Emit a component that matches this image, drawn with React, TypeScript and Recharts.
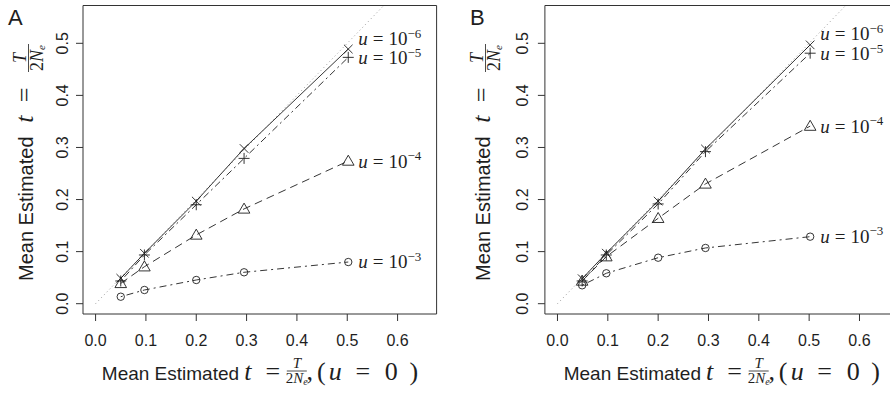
import React from 'react';
import { ComposedChart, Line, Scatter, XAxis, YAxis, ReferenceArea } from 'recharts';

// ---------- data ----------
const xValuesA = [0.05, 0.097, 0.2, 0.295, 0.502];
const xValuesB = [0.049, 0.097, 0.2, 0.294, 0.502];

const u6A = [0.0488, 0.0968, 0.197, 0.298, 0.489];
const u5A = [0.0436, 0.0935, 0.19, 0.279, 0.473];
const u4A = [0.039, 0.071, 0.132, 0.182, 0.274];
const u3A = [0.0134, 0.0263, 0.0455, 0.0603, 0.08];

const u6B = [0.048, 0.097, 0.197, 0.297, 0.497];
const u5B = [0.0436, 0.0935, 0.1915, 0.292, 0.481];
const u4B = [0.0436, 0.0903, 0.164, 0.23, 0.341];
const u3B = [0.0353, 0.0584, 0.0883, 0.107, 0.1287];

const labelExps = ['6', '5', '4', '3'];
const labelX = 0.502;
const labelYA = [0.5083, 0.4718, 0.2735, 0.0803];
const labelYB = [0.5179, 0.4795, 0.341, 0.129];

const diagX = [0, 0.7];

const xTicks = [0, 0.1, 0.2, 0.3, 0.4, 0.5, 0.6];
const yTicks = [0, 0.1, 0.2, 0.3, 0.4, 0.5];
const xDomain: [number, number] = [-0.025, 0.6775];
const yDomain: [number, number] = [-0.0198, 0.5726];

// ---------- style ----------
const INK = '#1e1e1e';
const BOX = '#333';
const SANS = '"Liberation Sans", Arial, Helvetica, sans-serif';
const SERIF = '"Liberation Serif", "Times New Roman", serif';

const pts = (xs: number[], ys: number[]) => xs.map((x, i) => ({ x, y: ys[i] }));

type Kind = 'x' | 'plus' | 'tri' | 'circ';

const Marker = ({ cx, cy, kind }: { cx?: number; cy?: number; kind: Kind }) => {
  if (cx == null || cy == null || isNaN(cx) || isNaN(cy)) return null;
  const sw = 0.9;
  if (kind === 'x') {
    const s = 4.3;
    return (
      <path
        d={`M${cx - s},${cy - s}L${cx + s},${cy + s}M${cx - s},${cy + s}L${cx + s},${cy - s}`}
        stroke={INK}
        strokeWidth={sw}
        fill="none"
      />
    );
  }
  if (kind === 'plus') {
    const s = 5.5;
    return (
      <path
        d={`M${cx - s},${cy}L${cx + s},${cy}M${cx},${cy - s}L${cx},${cy + s}`}
        stroke={INK}
        strokeWidth={sw}
        fill="none"
      />
    );
  }
  if (kind === 'tri') {
    return (
      <path
        d={`M${cx},${cy - 5.8}L${cx + 5.8},${cy + 4.2}L${cx - 5.8},${cy + 4.2}Z`}
        stroke={INK}
        strokeWidth={sw}
        fill="none"
      />
    );
  }
  return <circle cx={cx} cy={cy} r={3.7} stroke={INK} strokeWidth={sw} fill="none" />;
};

const dotFor = (kind: Kind) => (p: any) => <Marker key={`${kind}-${p.index}`} cx={p.cx} cy={p.cy} kind={kind} />;

const LabelShape = (p: any) => {
  const { cx, cy, payload } = p;
  if (cx == null || cy == null) return <g />;
  return (
    <text x={cx + 10} y={cy} dy="0.34em" fontFamily={SERIF} fontSize={19} fill={INK}>
      <tspan fontStyle="italic">u</tspan>
      <tspan dx={5}>=</tspan>
      <tspan dx={5}>10</tspan>
      <tspan dy={-7.5} fontSize={13}>{'\u2212' + payload.exp}</tspan>
    </text>
  );
};

const XTick = (p: any) => (
  <text x={p.x} y={p.y + 25} textAnchor="middle" fontFamily={SANS} fontSize={16} fill={INK}>
    {Number(p.payload.value).toFixed(1)}
  </text>
);

const makeYTick = (off: number) => (p: any) => (
  <text
    transform={`translate(${p.x - off},${p.y}) rotate(-90)`}
    textAnchor="middle"
    fontFamily={SANS}
    fontSize={16}
    fill={INK}
  >
    {Number(p.payload.value).toFixed(1)}
  </text>
);

interface PanelProps {
  width: number;
  plotLeft: number;
  rightMargin: number;
  tickOff: number;
  xs: number[];
  u6: number[];
  u5: number[];
  u4: number[];
  u3: number[];
  labelY: number[];
}

const Panel = ({ width, plotLeft, rightMargin, tickOff, xs, u6, u5, u4, u3, labelY }: PanelProps) => {
  const labels = labelExps.map((e, i) => ({ x: labelX, y: labelY[i], exp: e }));
  const diag = pts(diagX, diagX);
  const YT = makeYTick(tickOff);
  return (
    <ComposedChart
      width={width}
      height={393}
      margin={{ top: 5.5, right: rightMargin, bottom: 0, left: 0 }}
    >
      <XAxis
        type="number"
        dataKey="x"
        domain={xDomain}
        allowDataOverflow
        ticks={xTicks}
        interval={0}
        axisLine={false}
        tickLine={{ stroke: BOX, strokeWidth: 1 }}
        tickSize={7}
        tickMargin={0}
        height={79}
        tick={<XTick />}
      />
      <YAxis
        type="number"
        dataKey="y"
        domain={yDomain}
        allowDataOverflow
        ticks={yTicks}
        interval={0}
        axisLine={false}
        tickLine={{ stroke: BOX, strokeWidth: 1 }}
        tickSize={7}
        tickMargin={0}
        width={plotLeft}
        tick={<YT />}
      />
      <Line
        data={diag}
        dataKey="y"
        stroke="#9a9a9a"
        strokeWidth={1}
        strokeDasharray="1 3"
        dot={false}
        activeDot={false}
        isAnimationActive={false}
      />
      <Line
        data={pts(xs, u3)}
        dataKey="y"
        stroke={INK}
        strokeWidth={0.9}
        strokeDasharray="2 4 7 4"
        dot={dotFor('circ')}
        activeDot={false}
        isAnimationActive={false}
      />
      <Line
        data={pts(xs, u4)}
        dataKey="y"
        stroke={INK}
        strokeWidth={0.9}
        strokeDasharray="8 5"
        dot={dotFor('tri')}
        activeDot={false}
        isAnimationActive={false}
      />
      <Line
        data={pts(xs, u5)}
        dataKey="y"
        stroke={INK}
        strokeWidth={0.9}
        strokeDasharray="2 3.5 7 3.5"
        dot={dotFor('plus')}
        activeDot={false}
        isAnimationActive={false}
      />
      <Line
        data={pts(xs, u6)}
        dataKey="y"
        stroke={INK}
        strokeWidth={0.9}
        dot={dotFor('x')}
        activeDot={false}
        isAnimationActive={false}
      />
      <Scatter data={labels} dataKey="y" shape={LabelShape} isAnimationActive={false} />
      <ReferenceArea
        x1={xDomain[0]}
        x2={xDomain[1]}
        y1={yDomain[0]}
        y2={yDomain[1]}
        fill="none"
        fillOpacity={0}
        stroke={BOX}
        strokeWidth={1}
        ifOverflow="visible"
      />
    </ComposedChart>
  );
};

const M = 26; // math font size in titles

// Axis title pieces (text only, laid out in a local frame; glyphs centred on measured positions)
const XTitle = ({ x, y }: { x: number; y: number }) => (
  <g transform={`translate(${x},${y})`} fill={INK}>
    <text x={0} y={0} fontFamily={SANS} fontSize={19}>Mean Estimated</text>
    <g fontFamily={SERIF} fontSize={M} textAnchor="middle">
      <text x={146} y={0} fontStyle="italic">t</text>
      <text x={171} y={0}>=</text>
      <text x={208} y={0}>,</text>
      <text x={219.5} y={0}>(</text>
      <text x={233.5} y={0} fontStyle="italic">u</text>
      <text x={261} y={0}>=</text>
      <text x={289.5} y={0}>0</text>
      <text x={312} y={0}>)</text>
    </g>
    <text x={195} y={-12} textAnchor="middle" fontFamily={SERIF} fontSize={15} fontStyle="italic">T</text>
    <line x1={185} x2={205} y1={-9} y2={-9} stroke={INK} strokeWidth={0.8} />
    <text x={195} y={2.5} textAnchor="middle" fontFamily={SERIF} fontSize={15}>
      2<tspan fontStyle="italic">N</tspan>
      <tspan fontStyle="italic" fontSize={10} dy={2}>e</tspan>
    </text>
  </g>
);

const YTitle = ({ x, y }: { x: number; y: number }) => (
  <g transform={`translate(${x},${y}) rotate(-90)`} fill={INK}>
    <text x={0} y={0} fontFamily={SANS} fontSize={20}>Mean Estimated</text>
    <g fontFamily={SERIF} fontSize={M} textAnchor="middle">
      <text x={162} y={0} fontStyle="italic">t</text>
      <text x={186} y={0}>=</text>
    </g>
    <text x={223} y={-7.5} textAnchor="middle" fontFamily={SERIF} fontSize={18} fontStyle="italic">T</text>
    <line x1={209} x2={237} y1={-4.5} y2={-4.5} stroke={INK} strokeWidth={0.8} />
    <text x={223} y={9.5} textAnchor="middle" fontFamily={SERIF} fontSize={18}>
      2<tspan fontStyle="italic">N</tspan>
      <tspan fontStyle="italic" fontSize={11} dy={2}>e</tspan>
    </text>
  </g>
);

export default function App() {
  return (
    <div
      style={{
        position: 'absolute',
        left: 0,
        top: 0,
        width: 890,
        height: 393,
        overflow: 'hidden',
        background: '#fff',
      }}
    >
      <div style={{ position: 'absolute', left: 0, top: 0 }}>
        <Panel
          width={445}
          plotLeft={83}
          rightMargin={8.4}
          tickOff={8}
          xs={xValuesA}
          u6={u6A}
          u5={u5A}
          u4={u4A}
          u3={u3A}
          labelY={labelYA}
        />
      </div>
      <div style={{ position: 'absolute', left: 445, top: 0 }}>
        <Panel
          width={461}
          plotLeft={99.9}
          rightMargin={7.5}
          tickOff={9.5}
          xs={xValuesB}
          u6={u6B}
          u5={u5B}
          u4={u4B}
          u3={u3B}
          labelY={labelYB}
        />
      </div>
      <svg
        width={890}
        height={393}
        style={{ position: 'absolute', left: 0, top: 0, pointerEvents: 'none' }}
      >
        <text x={8} y={25} fontFamily={SANS} fontSize={22} fill={INK}>A</text>
        <text x={470} y={25} fontFamily={SANS} fontSize={22} fill={INK}>B</text>
        <XTitle x={101.8} y={380} />
        <XTitle x={563.7} y={380} />
        <YTitle x={33} y={281} />
        <YTitle x={490} y={281} />
      </svg>
    </div>
  );
}
